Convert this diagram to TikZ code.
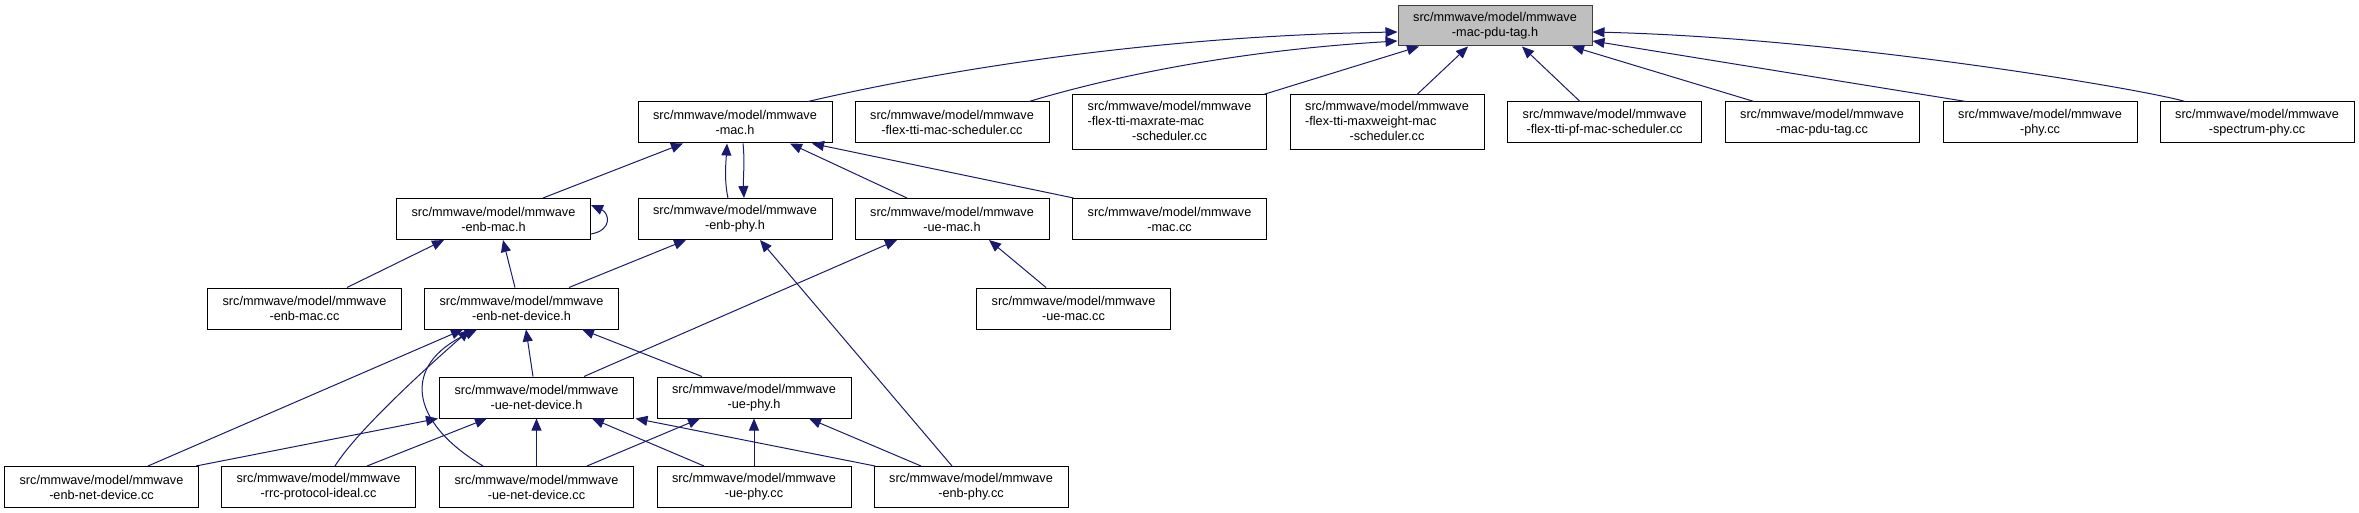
\documentclass[tikz,border=0pt]{standalone}
\usepackage{fontspec}
\setmainfont{Liberation Sans}
\usetikzlibrary{arrows.meta}
\definecolor{edgeblue}{RGB}{25,25,112}
\definecolor{rootgray}{RGB}{191,191,191}
\definecolor{rootline}{RGB}{64,64,64}

\begin{document}
\begin{tikzpicture}[x=1pt, y=-1pt, font=\fontsize{12.7}{15}\selectfont,
  file/.style={draw, line width=1pt, fill=white, align=center, minimum width=194pt, minimum height=41pt, inner sep=0pt},
  tall/.style={file, minimum height=55pt},
  rootfile/.style={file, draw=rootline, fill=rootgray, minimum height=40pt},
  arr/.style={-{Triangle[length=12pt, width=10pt]}, draw=edgeblue, line width=1pt}]
  \useasboundingbox (0,0) rectangle (2359,513);

  \node[rootfile] (root)       at (1495,26)    {src/mmwave/model/mmwave\\-mac-pdu-tag.h};
  \node[file]     (macH)       at (735,122.5)  {src/mmwave/model/mmwave\\-mac.h};
  \node[file]     (flexMac)    at (952,122.5)  {src/mmwave/model/mmwave\\-flex-tti-mac-scheduler.cc};
  \node[tall]     (maxRate)    at (1169.5,122.5) {\begin{tabular}{@{}l@{}}src/mmwave/model/mmwave\\-flex-tti-maxrate-mac\\\multicolumn{1}{@{}c@{}}{-scheduler.cc}\end{tabular}};
  \node[tall]     (maxWeight)  at (1387,122.5) {\begin{tabular}{@{}l@{}}src/mmwave/model/mmwave\\-flex-tti-maxweight-mac\\\multicolumn{1}{@{}c@{}}{-scheduler.cc}\end{tabular}};
  \node[file]     (pfMac)      at (1604.5,122.5) {src/mmwave/model/mmwave\\-flex-tti-pf-mac-scheduler.cc};
  \node[file]     (pduTagCc)   at (1822,122.5) {src/mmwave/model/mmwave\\-mac-pdu-tag.cc};
  \node[file]     (phyCc)      at (2040,122.5) {src/mmwave/model/mmwave\\-phy.cc};
  \node[file]     (spectrumCc) at (2257,122.5) {src/mmwave/model/mmwave\\-spectrum-phy.cc};

  \node[file] (enbMacH)  at (493.5,219)  {src/mmwave/model/mmwave\\-enb-mac.h};
  \node[file] (enbPhyH)  at (735,219)    {src/mmwave/model/mmwave\\-enb-phy.h};
  \node[file] (ueMacH)   at (952,219)    {src/mmwave/model/mmwave\\-ue-mac.h};
  \node[file] (macCc)    at (1169.5,219) {src/mmwave/model/mmwave\\-mac.cc};

  \node[file] (enbMacCc)   at (304.5,308.5)  {src/mmwave/model/mmwave\\-enb-mac.cc};
  \node[file] (enbNetDevH) at (521.5,308.5)  {src/mmwave/model/mmwave\\-enb-net-device.h};
  \node[file] (ueMacCc)    at (1073.5,308.5) {src/mmwave/model/mmwave\\-ue-mac.cc};

  \node[file] (ueNetDevH) at (536.5,397.5) {src/mmwave/model/mmwave\\-ue-net-device.h};
  \node[file] (uePhyH)    at (754,397.5)   {src/mmwave/model/mmwave\\-ue-phy.h};

  \node[file] (enbNetDevCc) at (101.5,487) {src/mmwave/model/mmwave\\-enb-net-device.cc};
  \node[file] (rrcCc)       at (318.5,487) {src/mmwave/model/mmwave\\-rrc-protocol-ideal.cc};
  \node[file] (ueNetDevCc)  at (536.5,487) {src/mmwave/model/mmwave\\-ue-net-device.cc};
  \node[file] (uePhyCc)     at (754,487)   {src/mmwave/model/mmwave\\-ue-phy.cc};
  \node[file] (enbPhyCc)    at (971,487)   {src/mmwave/model/mmwave\\-enb-phy.cc};

  \draw[arr] ([xshift=73pt]macH.north) .. controls +(60,-14) and +(-300,5) .. ([yshift=-6pt]root.west);
  \draw[arr] ([xshift=77pt]flexMac.north) .. controls +(40,-12) and +(-200,12) .. ([yshift=-15pt]root.west);
  \draw[arr] ([xshift=94pt]maxRate.north) -- ([xshift=-76pt]root.south);
  \draw[arr] ([xshift=30pt]maxWeight.north) -- ([xshift=-27pt]root.south);
  \draw[arr] ([xshift=-24.5pt]pfMac.north) -- ([xshift=27pt]root.south);
  \draw[arr] ([xshift=-68pt]pduTagCc.north) -- ([xshift=77pt]root.south);
  \draw[arr] ([xshift=-74pt]phyCc.north) -- ([yshift=-15pt]root.east);
  \draw[arr] ([xshift=-72pt]spectrumCc.north) .. controls +(-40,-12) and +(250,6) .. ([yshift=-6pt]root.east);

  \draw[arr] ([xshift=49.5pt]enbMacH.north) -- ([xshift=-52pt]macH.south);
  \draw[arr] ([xshift=-7pt]enbPhyH.north) .. controls +(-4,-18) and +(-1,18) .. ([xshift=-8pt]macH.south);
  \draw[arr] ([xshift=8pt]macH.south) .. controls +(2,18) and +(-1,-18) .. ([xshift=9pt]enbPhyH.north);
  \draw[arr] ([xshift=-45pt]ueMacH.north) -- ([xshift=55pt]macH.south);
  \draw[arr] ([xshift=-96pt]macCc.north) -- ([xshift=77pt]macH.south);
  \draw[arr] ([yshift=-15pt]enbMacH.east) .. controls +(22,-4) and +(18,8) .. ([yshift=14pt]enbMacH.east);

  \draw[arr] ([xshift=42.5pt]enbMacCc.north) -- ([xshift=-49.5pt]enbMacH.south);
  \draw[arr] ([xshift=-6.5pt]enbNetDevH.north) -- ([xshift=9.5pt]enbMacH.south);
  \draw[arr] ([xshift=47.5pt]enbNetDevH.north) -- ([xshift=-49pt]enbPhyH.south);
  \draw[arr] ([xshift=-19pt]enbPhyCc.north) -- ([xshift=25pt]enbPhyH.south);
  \draw[arr] ([xshift=-27.5pt]ueMacCc.north) -- ([xshift=37pt]ueMacH.south);
  \draw[arr] ([xshift=47.5pt]ueNetDevH.north) -- ([xshift=-55pt]ueMacH.south);

  \draw[arr] ([xshift=46.5pt]enbNetDevCc.north) -- ([xshift=-58.5pt]enbNetDevH.south);
  \draw[arr] ([xshift=16.5pt]rrcCc.north) .. controls +(25,-40) and +(-25,22) .. ([xshift=-51.5pt]enbNetDevH.south);
  \draw[arr] ([xshift=-53.5pt]ueNetDevCc.north) .. controls +(-75,-45) and +(-75,35) .. ([xshift=-44.5pt]enbNetDevH.south);
  \draw[arr] ([xshift=-3.5pt]ueNetDevH.north) -- ([xshift=4.5pt]enbNetDevH.south);
  \draw[arr] ([xshift=-52pt]uePhyH.north) -- ([xshift=60.5pt]enbNetDevH.south);

  \draw[arr] ([xshift=94.5pt]enbNetDevCc.north) -- ([xshift=-98.5pt]ueNetDevH.south);
  \draw[arr] ([xshift=48.5pt]rrcCc.north) -- ([xshift=-49.5pt]ueNetDevH.south);
  \draw[arr] (ueNetDevCc.north) -- (ueNetDevH.south);
  \draw[arr] ([xshift=-50pt]uePhyCc.north) -- ([xshift=55.5pt]ueNetDevH.south);
  \draw[arr] ([xshift=-96pt]enbPhyCc.north) -- ([xshift=99pt]ueNetDevH.south);

  \draw[arr] ([xshift=50.5pt]ueNetDevCc.north) -- ([xshift=-54pt]uePhyH.south);
  \draw[arr] (uePhyCc.north) -- (uePhyH.south);
  \draw[arr] ([xshift=-50pt]enbPhyCc.north) -- ([xshift=55pt]uePhyH.south);
\end{tikzpicture}
\end{document}
